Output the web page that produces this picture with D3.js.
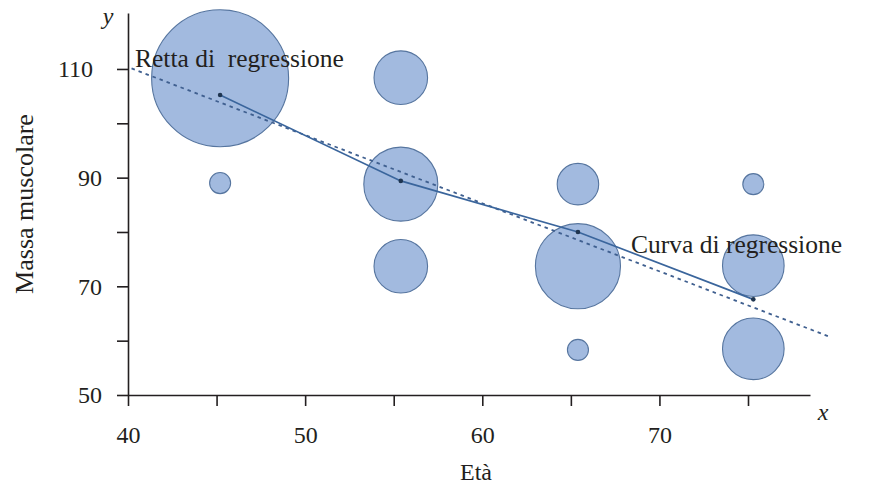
<!DOCTYPE html>
<html>
<head>
<meta charset="utf-8">
<script src="https://cdn.jsdelivr.net/npm/d3@7"></script>
<style>
  html, body { margin: 0; padding: 0; background: #fff; }
  svg { display: block; }
  text { font-family: "Liberation Serif", "DejaVu Serif", serif; fill: #231f20; }
</style>
</head>
<body>
<svg id="chart" width="876" height="486"></svg>
<script>
// ---- data ----
const bubbleAge   = [45.2, 45.2, 55.4, 55.4, 55.4, 65.4, 65.4, 65.4, 75.3, 75.3, 75.3];
const bubbleMass  = [108.3, 89.0, 108.4, 88.8, 73.7, 88.8, 73.7, 58.3, 88.8, 73.8, 58.5];
const bubbleFreq  = [42.5, 1.0, 6.5, 12.4, 6.5, 3.9, 16.4, 1.0, 1.0, 8.6, 8.6];

const curveAge  = [45.2, 55.4, 65.4, 75.3];
const curveMass = [105.2, 89.4, 80.0, 67.6];

const lineAge  = [40.2, 79.7];
const lineMass = [110.1, 60.6];

const xTicks = [40, 45, 50, 55, 60, 65, 70, 75];
const xTickLabels = ["40", "", "50", "", "60", "", "70", ""];
const yTicks = [50, 60, 70, 80, 90, 100, 110];
const yTickLabels = ["50", "", "70", "", "90", "", "110"];

// ---- scales ----
const svg = d3.select("#chart");
const x = d3.scaleLinear().domain([40, 78.5]).range([128, 810]);
const y = d3.scaleLinear().domain([50, 120.3]).range([395, 13]);
const r = d3.scaleSqrt().domain([0, 42.5]).range([0, 68.5]);

// ---- bubbles ----
const bubbles = bubbleAge.map((a, i) => ({ a, m: bubbleMass[i], f: bubbleFreq[i] }));
svg.append("g").selectAll("circle")
  .data(bubbles)
  .join("circle")
  .attr("cx", d => x(d.a))
  .attr("cy", d => y(d.m))
  .attr("r", d => r(d.f))
  .attr("fill", "#a2badf")
  .attr("stroke", "#56759f")
  .attr("stroke-width", 1.1);

// ---- regression line (dashed) ----
const lineData = lineAge.map((a, i) => [a, lineMass[i]]);
svg.append("path")
  .datum(lineData)
  .attr("d", d3.line().x(d => x(d[0])).y(d => y(d[1])))
  .attr("fill", "none")
  .attr("stroke", "#3f5f8f")
  .attr("stroke-width", 1.8)
  .attr("stroke-dasharray", "3.5,4");

// ---- regression curve (solid) ----
const curveData = curveAge.map((a, i) => [a, curveMass[i]]);
svg.append("path")
  .datum(curveData)
  .attr("d", d3.line().x(d => x(d[0])).y(d => y(d[1])))
  .attr("fill", "none")
  .attr("stroke", "#3a659c")
  .attr("stroke-width", 1.7);
svg.append("g").selectAll("circle")
  .data(curveData)
  .join("circle")
  .attr("cx", d => x(d[0]))
  .attr("cy", d => y(d[1]))
  .attr("r", 2.3)
  .attr("fill", "#1f3550");

// ---- axes ----
const xAxis = svg.append("g")
  .attr("transform", `translate(0,${y(50)})`)
  .call(d3.axisBottom(x).tickValues(xTicks)
    .tickFormat((d, i) => xTickLabels[i]).tickSize(11).tickSizeOuter(0));
const yAxis = svg.append("g")
  .attr("transform", `translate(${x(40)},0)`)
  .call(d3.axisLeft(y).tickValues(yTicks)
    .tickFormat((d, i) => yTickLabels[i]).tickSize(11).tickSizeOuter(0));

[xAxis, yAxis].forEach(g => {
  g.selectAll("path.domain").attr("stroke", "#231f20").attr("stroke-width", 1.6);
  g.selectAll(".tick line").attr("stroke", "#231f20").attr("stroke-width", 1.6);
  g.selectAll(".tick text")
    .style("font-family", "'Liberation Serif', serif")
    .style("font-size", "24px")
    .attr("fill", "#231f20");
});
xAxis.selectAll(".tick text").attr("y", 31).attr("dy", "0.71em");
yAxis.selectAll(".tick text")
  .attr("x", (d, i) => (yTickLabels[i].length > 2 ? -35 : -26))
  .attr("dy", "0.33em");

// ---- axis titles & labels ----
svg.append("text")
  .attr("transform", "translate(33,204) rotate(-90)")
  .attr("text-anchor", "middle")
  .style("font-size", "26px")
  .text("Massa muscolare");
svg.append("text")
  .attr("x", 476).attr("y", 480)
  .attr("text-anchor", "middle")
  .style("font-size", "24px")
  .text("Età");
svg.append("text")
  .attr("x", 108).attr("y", 24)
  .attr("text-anchor", "middle")
  .style("font-size", "24px").style("font-style", "italic")
  .text("y");
svg.append("text")
  .attr("x", 823).attr("y", 420)
  .attr("text-anchor", "middle")
  .style("font-size", "24px").style("font-style", "italic")
  .text("x");
svg.append("text")
  .attr("x", 135).attr("y", 67)
  .attr("xml:space", "preserve")
  .style("white-space", "pre")
  .style("font-size", "25.5px")
  .text("Retta di  regressione");
svg.append("text")
  .attr("x", 631).attr("y", 253)
  .style("font-size", "25.5px")
  .text("Curva di regressione");
</script>
</body>
</html>
